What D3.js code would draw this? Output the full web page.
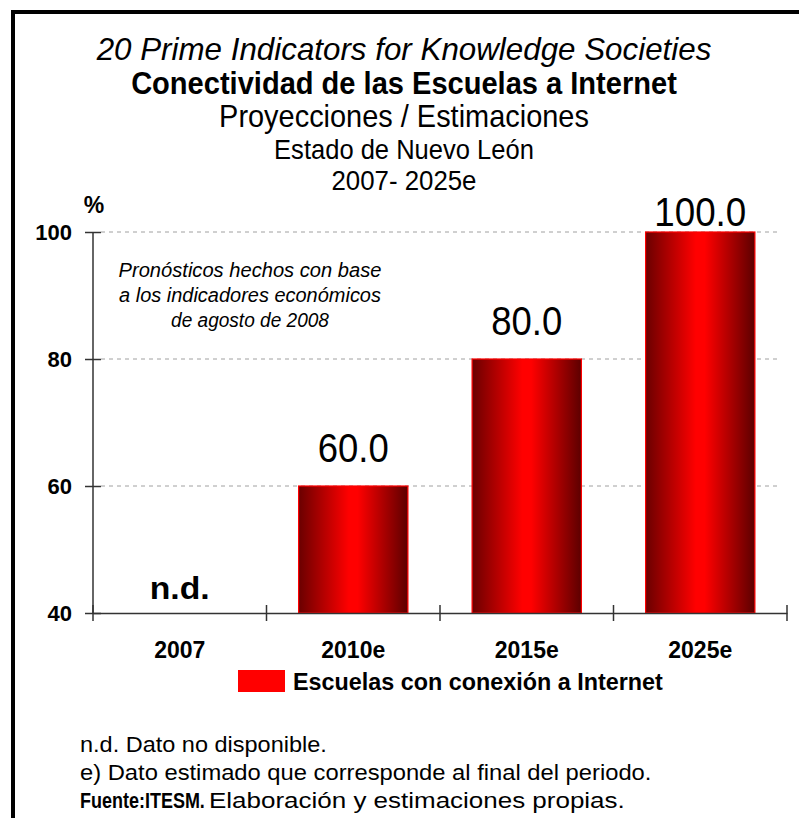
<!DOCTYPE html>
<html>
<head>
<meta charset="utf-8">
<script src="https://cdn.jsdelivr.net/npm/d3@7"></script>
<style>
  body { margin: 0; background: #fff; }
  svg { display: block; }
  text { font-family: "Liberation Sans", Arial, sans-serif; fill: #000; }
</style>
</head>
<body>
<div id="chart"></div>
<script>
// datos del gráfico
const categories = ["2007", "2010e", "2015e", "2025e"];
const values = [null, 60.0, 80.0, 100.0];
const yTicks = [40, 60, 80, 100];
const seriesName = "Escuelas con conexión a Internet";
const titleLines = [
  "20 Prime Indicators for Knowledge Societies",
  "Conectividad de las Escuelas a Internet",
  "Proyecciones / Estimaciones",
  "Estado de Nuevo León",
  "2007- 2025e"
];
const noteLines = [
  "Pronósticos hechos con base",
  "a los indicadores económicos",
  "de agosto de 2008"
];

const svgWidth = 799, svgHeight = 818;
const margin = { top: 232, right: 12, bottom: 205, left: 93 };
const width = svgWidth - margin.left - margin.right;
const height = svgHeight - margin.top - margin.bottom;

// estrecha el texto horizontalmente (simula una fuente "narrow")
function narrow(node, target) {
  const w = node.getComputedTextLength();
  const x = +node.getAttribute("x") || 0;
  const s = target / w;
  node.setAttribute("transform", `translate(${x},0) scale(${s},1) translate(${-x},0)`);
}

const root = d3.select("#chart").append("svg")
  .attr("width", svgWidth)
  .attr("height", svgHeight);

// gradiente de las barras
const grad = root.append("defs").append("linearGradient")
  .attr("id", "barGrad")
  .attr("x1", "0%").attr("x2", "100%").attr("y1", "0%").attr("y2", "0%");
grad.append("stop").attr("offset", "0%").attr("stop-color", "#6a0000");
grad.append("stop").attr("offset", "46%").attr("stop-color", "#ff0000");
grad.append("stop").attr("offset", "54%").attr("stop-color", "#ff0000");
grad.append("stop").attr("offset", "100%").attr("stop-color", "#5c0000");

// marco negro
root.append("rect")
  .attr("x", 13).attr("y", 12)
  .attr("width", 820).attr("height", 840)
  .attr("fill", "none")
  .attr("stroke", "#000")
  .attr("stroke-width", 4);

// títulos
const titleStyle = [
  { y: 60, size: 32, style: "italic", weight: "normal", len: 615 },
  { y: 94, size: 31, style: "normal", weight: "bold", len: 546 },
  { y: 127, size: 31, style: "normal", weight: "normal", len: 370 },
  { y: 159, size: 27, style: "normal", weight: "normal", len: 260 },
  { y: 190, size: 27, style: "normal", weight: "normal", len: 145 }
];
root.selectAll("text.title")
  .data(titleLines)
  .enter().append("text")
  .attr("class", "title")
  .attr("x", 404)
  .attr("y", (d, i) => titleStyle[i].y)
  .attr("text-anchor", "middle")
  .attr("font-size", (d, i) => titleStyle[i].size)
  .attr("font-style", (d, i) => titleStyle[i].style)
  .attr("font-weight", (d, i) => titleStyle[i].weight)
  .text(d => d)
  .each(function (d, i) { narrow(this, titleStyle[i].len); });

const svg = root.append("g")
  .attr("transform", `translate(${margin.left},${margin.top})`);

// escalas
const xScale = d3.scaleBand()
  .domain(categories)
  .range([0, width])
  .paddingInner(0.37)
  .paddingOuter(0.185);

const yScale = d3.scaleLinear()
  .domain([40, 100])
  .range([height, 0]);

// líneas de rejilla
svg.selectAll("line.grid")
  .data(yTicks.filter(t => t > 40))
  .enter().append("line")
  .attr("class", "grid")
  .attr("x1", 8).attr("x2", width - 8)
  .attr("y1", d => yScale(d)).attr("y2", d => yScale(d))
  .attr("stroke", "#a0a0a0")
  .attr("stroke-width", 1)
  .attr("stroke-dasharray", "4,4");

// barras
const barData = categories.map((c, i) => ({ cat: c, val: values[i] }));
svg.selectAll("rect.bar")
  .data(barData.filter(d => d.val !== null))
  .enter().append("rect")
  .attr("class", "bar")
  .attr("x", d => xScale(d.cat))
  .attr("y", d => yScale(d.val))
  .attr("width", xScale.bandwidth())
  .attr("height", d => height - yScale(d.val))
  .attr("fill", "url(#barGrad)")
  .attr("stroke", "#ff0000")
  .attr("stroke-width", 1.2);

// etiquetas de valor
svg.selectAll("text.val")
  .data(barData)
  .enter().append("text")
  .attr("class", "val")
  .attr("x", d => xScale(d.cat) + xScale.bandwidth() / 2)
  .attr("y", d => d.val === null ? height - 14 : Math.max(yScale(d.val) - 24, -6))
  .attr("text-anchor", "middle")
  .attr("font-size", d => d.val === null ? 31 : 40)
  .attr("font-weight", d => d.val === null ? "bold" : "normal")
  .text(d => d.val === null ? "n.d." : d.val.toFixed(1))
  .each(function (d) { narrow(this, d.val === null ? 60 : (d.val >= 100 ? 92 : 71)); });

// eje Y
const yAxis = svg.append("g")
  .call(d3.axisLeft(yScale).tickValues(yTicks).tickSize(8).tickPadding(13));
yAxis.select(".domain").attr("stroke", "#333").attr("stroke-width", 1.5).attr("d", `M0,${height}V0`);
yAxis.selectAll(".tick line").attr("x1", -8).attr("x2", 8).attr("stroke", "#333").attr("stroke-width", 1.5);
yAxis.selectAll(".tick text")
  .attr("font-family", "'Liberation Sans', Arial, sans-serif")
  .attr("font-size", 22)
  .attr("font-weight", "bold")
  .attr("fill", "#000")
  .attr("dy", "0.36em");

// símbolo %
svg.append("text")
  .attr("x", 1)
  .attr("y", -19)
  .attr("text-anchor", "middle")
  .attr("font-size", 23)
  .attr("font-weight", "bold")
  .text("%");

// eje X
const xAxis = svg.append("g")
  .attr("transform", `translate(0,${height})`)
  .call(d3.axisBottom(xScale).tickSize(0).tickPadding(29));
xAxis.select(".domain").attr("stroke", "#333").attr("stroke-width", 1.5);
xAxis.selectAll(".tick text")
  .attr("font-family", "'Liberation Sans', Arial, sans-serif")
  .attr("font-size", 23)
  .attr("font-weight", "bold")
  .attr("fill", "#000");

// marcas en los límites de las categorías
const step = xScale.step();
const bounds = d3.range(categories.length + 1).map(i => i * step);
xAxis.selectAll("line.bound")
  .data(bounds)
  .enter().append("line")
  .attr("class", "bound")
  .attr("x1", d => d).attr("x2", d => d)
  .attr("y1", -8).attr("y2", 8)
  .attr("stroke", "#333")
  .attr("stroke-width", 1.5);

// nota en cursiva
const noteLen = [263, 262, 158];
svg.selectAll("text.note")
  .data(noteLines)
  .enter().append("text")
  .attr("class", "note")
  .attr("x", 157)
  .attr("y", (d, i) => 45 + i * 25)
  .attr("text-anchor", "middle")
  .attr("font-size", 21)
  .attr("font-style", "italic")
  .text(d => d)
  .each(function (d, i) { narrow(this, noteLen[i]); });

// leyenda
const legend = root.append("g").attr("transform", "translate(238,670)");
legend.append("rect")
  .attr("width", 47).attr("height", 22)
  .attr("fill", "#ff0000");
legend.append("text")
  .attr("x", 55).attr("y", 20)
  .attr("font-size", 23)
  .attr("font-weight", "bold")
  .text(seriesName)
  .each(function () { narrow(this, 370); });

// notas al pie
const foot = root.append("g").attr("font-size", 22);
foot.append("text").attr("x", 80).attr("y", 752)
  .text("n.d. Dato no disponible.")
  .each(function () { narrow(this, 247); });
foot.append("text").attr("x", 80).attr("y", 780)
  .text("e) Dato estimado que corresponde al final del periodo.")
  .each(function () { narrow(this, 572); });
foot.append("text").attr("x", 80).attr("y", 808)
  .attr("font-weight", "bold")
  .text("Fuente:ITESM.")
  .each(function () { narrow(this, 125); });
foot.append("text").attr("x", 209).attr("y", 808)
  .text("Elaboración y estimaciones propias.")
  .each(function () { narrow(this, 416); });
</script>
</body>
</html>
